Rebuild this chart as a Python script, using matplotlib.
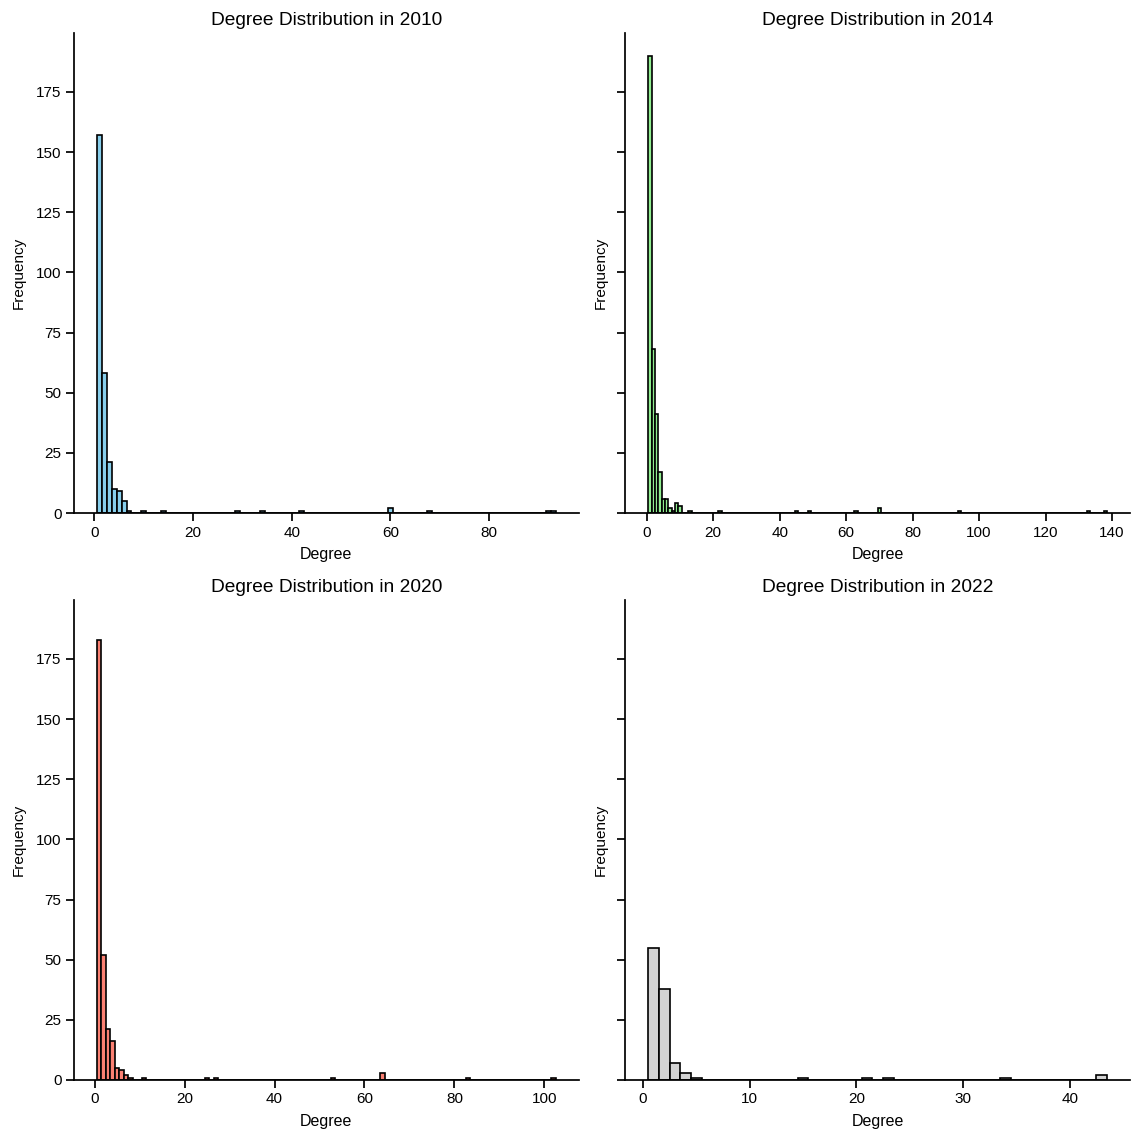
import numpy as np
import matplotlib
matplotlib.use("Agg")
import matplotlib.pyplot as plt

plt.rcParams['font.family'] = ['Liberation Sans', 'DejaVu Sans']

years = ["2010", "2014", "2020", "2022"]
colors = ["skyblue", "lightgreen", "salmon", "lightgray"]

deg_2010 = [1, 2, 3, 4, 5, 6, 7, 10, 14, 29, 34, 42, 60, 68, 92, 93]
cnt_2010 = [157, 58, 21, 10, 9, 5, 1, 1, 1, 1, 1, 1, 2, 1, 1, 1]

deg_2014 = [1, 2, 3, 4, 5, 6, 7, 8, 9, 10, 13, 22, 45, 49, 63, 70, 94, 133, 138]
cnt_2014 = [190, 68, 41, 17, 6, 6, 2, 1, 4, 3, 1, 1, 1, 1, 1, 2, 1, 1, 1]

deg_2020 = [1, 2, 3, 4, 5, 6, 7, 8, 11, 25, 27, 53, 64, 83, 102]
cnt_2020 = [183, 52, 21, 16, 5, 4, 2, 1, 1, 1, 1, 1, 3, 1, 1]

deg_2022 = [1, 2, 3, 4, 5, 15, 21, 23, 34, 43]
cnt_2022 = [55, 38, 7, 3, 1, 1, 1, 1, 1, 2]

degrees = [deg_2010, deg_2014, deg_2020, deg_2022]
counts = [cnt_2010, cnt_2014, cnt_2020, cnt_2022]

fig, axes = plt.subplots(2, 2, figsize=(11.35, 11.33), dpi=100, sharey=True)
fig.subplots_adjust(left=0.0652, right=0.9956, top=0.9709, bottom=0.0468,
                    wspace=0.093, hspace=0.181)

for i, (ax, yr, col, d, c) in enumerate(zip(axes.flat, years, colors, degrees, counts)):
    d = np.asarray(d)
    bins = np.arange(d.min() - 0.5, d.max() + 1.5, 1.0)
    ax.hist(d, bins=bins, weights=c, color=col, edgecolor="black", linewidth=1.2)
    ax.set_title(f"Degree Distribution in {yr}", fontsize=13.8)
    ax.set_xlabel("Degree", fontsize=11.5, labelpad=5.5)
    ax.set_ylabel("Frequency", fontsize=11, labelpad=7.5)
    ax.spines["top"].set_visible(False)
    ax.spines["right"].set_visible(False)
    for s in ("left", "bottom"):
        ax.spines[s].set_linewidth(1.25)
    ax.tick_params(axis="both", which="major", length=5.5, width=1.25, labelsize=11)
    ax.yaxis.set_tick_params(labelleft=(i % 2 == 0))
    ax.margins(x=0.05)

axes[0, 0].set_yticks([0, 25, 50, 75, 100, 125, 150, 175])

fig.savefig("out.png", dpi=100)
